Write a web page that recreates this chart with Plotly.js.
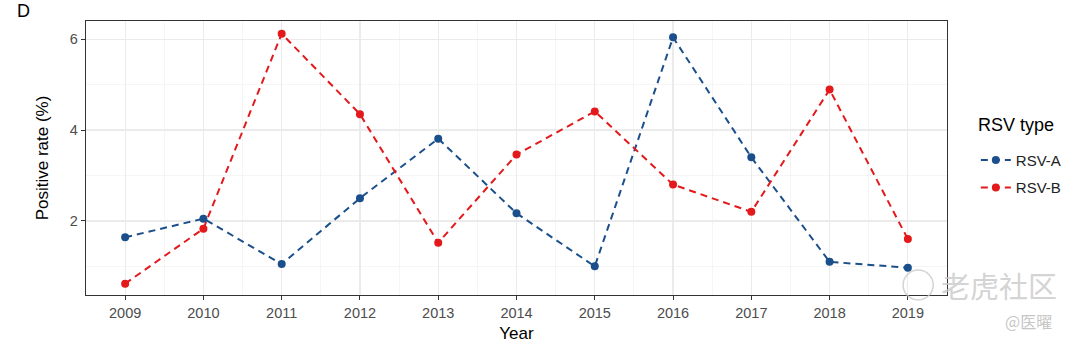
<!DOCTYPE html>
<html>
<head>
<meta charset="utf-8">
<script src="https://cdn.plot.ly/plotly-3.0.1.min.js"></script>
<style>html,body{margin:0;padding:0;background:#fff;}#chart{width:1079px;height:346px;}</style>
</head>
<body>
<div id="chart"></div>
<script>
const years = [2009, 2010, 2011, 2012, 2013, 2014, 2015, 2016, 2017, 2018, 2019];
const rsvA = [1.64, 2.05, 1.05, 2.50, 3.81, 2.17, 1.00, 6.04, 3.40, 1.10, 0.97];
const rsvB = [0.62, 1.83, 6.12, 4.35, 1.52, 3.46, 4.41, 2.80, 2.20, 4.89, 1.60];
const seriesNames = ['RSV-A', 'RSV-B'];
const yTicks = [2, 4, 6];

const colA = '#1a4f8b';
const colB = '#e3191c';

const traces = [
  {x: years, y: rsvA, name: seriesNames[0], legendgroup: 'a', mode: 'lines+markers', type: 'scatter',
   line: {color: colA, width: 2, dash: '7px,5px'}, marker: {color: colA, size: 8}},
  {x: years, y: rsvB, name: seriesNames[1], legendgroup: 'b', mode: 'lines+markers', type: 'scatter',
   line: {color: colB, width: 2, dash: '7px,5px'}, marker: {color: colB, size: 8}}
];

const layout = {
  width: 1079, height: 346,
  margin: {l: 86, r: 130, t: 21, b: 51},
  paper_bgcolor: '#fff', plot_bgcolor: '#fff',
  font: {family: 'Liberation Sans, Arial, sans-serif', color: '#000'},
  showlegend: true,
  legend: {
    x: 1.0335, xanchor: 'left', y: 0.552, yanchor: 'top',
    font: {size: 15, color: '#222'},
    traceorder: 'grouped', tracegroupgap: 5,
    bgcolor: 'rgba(0,0,0,0)'
  },
  xaxis: {
    range: [2008.5, 2019.5], tickvals: years, ticktext: years.map(String),
    showgrid: true, gridcolor: '#ebebeb', gridwidth: 1.2,
    minor: {dtick: 0.5, tick0: 2009, showgrid: true, gridcolor: '#f2f2f2', gridwidth: 0.8},
    ticks: 'outside', ticklen: 4, tickcolor: '#333', tickwidth: 1,
    tickfont: {size: 14.5, color: '#4d4d4d'},
    showline: true, linecolor: '#333', linewidth: 1.2, mirror: true, zeroline: false,
    title: {text: 'Year', font: {size: 17, color: '#000'}, standoff: 7}
  },
  yaxis: {
    range: [0.37, 6.4], tickvals: yTicks, ticktext: yTicks.map(String),
    showgrid: true, gridcolor: '#ebebeb', gridwidth: 1.2,
    minor: {dtick: 1, tick0: 1, showgrid: true, gridcolor: '#f2f2f2', gridwidth: 0.8},
    ticks: 'outside', ticklen: 4, tickcolor: '#333', tickwidth: 1,
    tickfont: {size: 14.5, color: '#4d4d4d'},
    showline: true, linecolor: '#333', linewidth: 1.2, mirror: true, zeroline: false,
    title: {text: 'Positive rate (%)', font: {size: 17, color: '#000'}, standoff: 16}
  },
  shapes: [
    {type: 'circle', xref: 'paper', yref: 'paper', x0: 0.949, x1: 0.984, y0: -0.018, y1: 0.091,
     line: {color: 'rgba(200,200,200,0.8)', width: 1.5}, fillcolor: 'rgba(0,0,0,0)'}
  ],
  annotations: [
    {text: 'RSV type', xref: 'paper', yref: 'paper', x: 1.0335, y: (295 - 125) / 274, xanchor: 'left', yanchor: 'middle',
     showarrow: false, font: {size: 18, color: '#000'}},
    {text: 'D', xref: 'paper', yref: 'paper', x: -0.082, y: 1.0, xanchor: 'left', yanchor: 'middle',
     showarrow: false, font: {size: 18, color: '#000'}, yshift: 10},
    {text: '老虎社区', xref: 'paper', yref: 'paper', x: 1.06, y: 0.036, xanchor: 'center', yanchor: 'middle',
     showarrow: false, font: {size: 29, color: 'rgba(200,200,200,0.8)', family: 'Noto Sans CJK SC'}},
    {text: '@医曜', xref: 'paper', yref: 'paper', x: 1.095, y: -0.095, xanchor: 'center', yanchor: 'middle',
     showarrow: false, font: {size: 16, color: 'rgba(190,190,190,0.9)', family: 'Noto Sans CJK SC'}}
  ]
};

Plotly.newPlot('chart', traces, layout, {displayModeBar: false, staticPlot: true});
</script>
</body>
</html>
